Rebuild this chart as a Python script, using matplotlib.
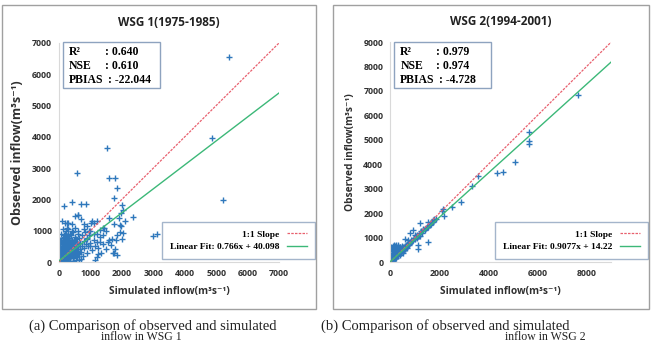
import numpy as np
import matplotlib
matplotlib.use("Agg")
import matplotlib.pyplot as plt
from matplotlib.patches import Rectangle

# ---- data (m3/s) ----
sim_wsg1 = [
    5410, 4880, 5230, 1540, 570, 1600, 1790, 1840, 1760, 160, 410, 710, 860, 2000, 2050, 1980,
    2370, 3000, 3110, 1150, 1220, 1970, 1950, 1800, 1700, 1600, 1420, 1300, 1200, 1100, 1050,
    950, 900, 1400, 1500, 1250, 1750, 1850, 1660, 1000, 1200, 600, 700, 500, 300, 250, 400,
    800, 1100, 1300, 1500, 1600, 1750, 1850, 1900, 2100, 2000, 595, 245, 1020, 1410, 1940,
    2030, 1570, 1780, 1730,
    10, 15, 20, 25, 30, 35, 40, 45, 50, 55, 60, 65, 70, 75, 80, 85, 90, 95, 100, 105, 110,
    115, 120, 125, 130, 135, 140, 145, 150, 155, 160, 165, 170, 175, 180, 185, 190, 195, 200,
    205, 210, 215, 220, 225, 230, 235, 240, 245, 250, 255, 260, 265, 270, 275, 280, 285, 290,
    295, 300, 310, 320, 330, 340, 350, 360, 370, 380, 390, 400, 410, 420, 430, 440, 450, 460,
    470, 480, 490, 500, 510, 520, 530, 540, 550, 560, 570, 580, 590, 600, 620, 640, 660, 680,
    700, 720, 740, 760, 780, 800, 820, 850, 880, 900, 930, 960, 1000, 1050, 1100, 1150, 1200,
    1250, 1300, 1350, 1400, 700, 650, 550, 450, 350, 250, 150, 600, 500, 400, 300, 800, 900,
    1000, 120, 60, 30, 200, 100,
    30, 50, 70, 90, 110, 130, 150, 170, 190, 210, 230, 250, 270, 290, 310, 330, 350, 370, 390,
    60, 80, 100, 120, 140, 160, 180, 200, 220, 240, 260, 280, 300, 320, 340, 360,
    20, 40, 60, 80, 100, 120, 140, 160, 180, 200, 220, 240, 260, 280, 300, 320, 340, 360, 380,
    400, 420, 440, 460, 480, 500, 25, 45, 65, 85, 105, 125, 145, 165, 185, 205, 225, 245, 265,
    285, 305, 325, 345, 365, 385, 405, 425, 445, 465, 485, 505, 530, 560, 590, 620, 650, 35,
    75, 115, 155, 195, 235, 275, 315, 355, 395,
]
obs_wsg1 = [
    6560, 3950, 1980, 3630, 2830, 2670, 2690, 2370, 2030, 1790, 1920, 1850, 1850, 1820, 1660,
    1580, 1450, 830, 895, 60, 150, 1160, 950, 700, 720, 700, 1100, 1030, 1300, 1250, 1300,
    1000, 780, 580, 400, 250, 300, 230, 550, 500, 650, 1500, 1380, 1480, 1250, 1100, 1000,
    1200, 900, 800, 1000, 1400, 1200, 850, 1400, 1300, 750, 1500, 1245, 1255, 1085, 1180,
    925, 650, 415, 278,
    20, 80, 150, 40, 250, 120, 60, 330, 180, 90, 420, 270, 30, 150, 520, 350, 200, 60, 610,
    440, 110, 280, 700, 380, 170, 520, 50, 310, 800, 450, 230, 620, 100, 360, 900, 540, 160,
    420, 700, 290, 70, 580, 1000, 380, 210, 650, 460, 130, 820, 320, 530, 240, 720, 90, 410,
    600, 180, 900, 350, 500, 260, 780, 430, 150, 620, 330, 850, 510, 240, 700, 400, 120, 580,
    950, 300, 680, 450, 200, 800, 380, 560, 260, 720, 470, 150, 640, 350, 900, 500, 280, 760,
    420, 600, 330, 850, 520, 200, 680, 450, 950, 580, 300, 720, 500, 850, 620, 380, 700, 520,
    900, 450, 650, 300, 850, 100, 50, 60, 40, 30, 20, 10, 1000, 1100, 1200, 1050, 1050, 1150,
    1000, 1050, 900, 700, 1250, 1300,
    50, 100, 130, 90, 160, 80, 140, 200, 100, 150, 120, 190, 140, 260, 200, 160, 240, 210, 280,
    200, 260, 320, 360, 240, 330, 280, 380, 300, 350, 400, 320, 450, 380, 300, 460,
    300, 220, 380, 150, 470, 260, 90, 540, 330, 410, 180, 560, 270, 480, 120, 390, 530, 210,
    650, 320, 480, 150, 600, 380, 240, 110, 400, 180, 560, 240, 350, 470, 120, 300, 520, 260,
    420, 80, 550, 310, 240, 620, 170, 430, 560, 220, 350, 700, 280, 460, 320, 180, 420, 560,
    260, 600, 680, 760, 850, 730, 620, 780, 700, 880, 640,
]

sim_wsg2 = [
    7650, 5650, 5650, 5650, 5080, 4330, 4600, 3590, 3340, 2880, 2500, 2200, 2120, 1850, 1800,
    1750, 1210, 1520, 1550, 2160, 1140, 1140, 1520, 910, 800, 600, 55,
    50, 80, 100, 120, 150, 170, 200, 220, 250, 280, 300, 320, 350, 380, 400, 420, 450, 480,
    500, 520, 550, 600, 620, 650, 700, 750, 800, 850, 900, 950, 1000, 1050, 1100, 1150, 1200,
    1250, 1300, 1350, 1400, 1450, 1500, 1600, 1650, 1700,
    60, 100, 150, 200, 250, 300, 120, 180, 30, 40, 70, 90, 130, 160, 190, 230, 260, 340, 420,
    520, 580, 680, 720, 1000, 1080, 1180,
    20, 40, 60, 80, 100, 140, 180, 220, 260, 300, 340, 380, 420, 460, 500, 540, 580, 640, 700,
    760, 820, 880, 940, 1020, 1120, 1220, 1320, 1420, 1520, 1620, 1720, 1800,
    30, 70, 110, 160, 210, 270, 330, 390,
]
obs_wsg2 = [
    6820, 5300, 4970, 4820, 4090, 3630, 3670, 3520, 3120, 2450, 2270, 1900, 2100, 1770, 1720,
    1700, 1610, 1450, 1650, 2160, 520, 684, 832, 1310, 1175, 930, 560,
    80, 150, 60, 200, 300, 120, 250, 400, 180, 330, 550, 260, 400, 620, 300, 480, 380, 650,
    450, 560, 500, 580, 700, 600, 680, 720, 760, 900, 850, 1000, 950, 1050, 1100, 1150, 1080,
    1250, 1200, 1350, 1300, 1380, 1420, 1500, 1550, 1650,
    500, 620, 700, 650, 700, 680, 450, 580, 100, 250, 180, 350, 280, 420, 150, 330, 240, 450,
    420, 380, 520, 560, 900, 1120, 980, 1060,
    40, 120, 300, 200, 380, 250, 420, 300, 480, 350, 560, 420, 520, 470, 600, 520, 650, 640,
    740, 700, 800, 850, 900, 980, 1080, 1180, 1300, 1360, 1480, 1560, 1640, 1760,
    600, 550, 640, 520, 600, 560, 660, 600,
]

panels = [
    dict(sim=sim_wsg1, obs=obs_wsg1, title="WSG 1(1975-1985)", lim=7000,
         xticks=[0, 1000, 2000, 3000, 4000, 5000, 6000, 7000],
         slope=0.766, icpt=40.098, fit_label="Linear Fit: 0.766x + 40.098",
         stats=[("R²", ": 0.640"), ("NSE", ": 0.610"), ("PBIAS", " : -22.044")]),
    dict(sim=sim_wsg2, obs=obs_wsg2, title="WSG 2(1994-2001)", lim=9000,
         xticks=[0, 2000, 4000, 6000, 8000],
         slope=0.9077, icpt=14.22, fit_label="Linear Fit: 0.9077x + 14.22",
         stats=[("R²", ": 0.979"), ("NSE", ": 0.974"), ("PBIAS", " : -4.728")]),
]
captions = ["(a) Comparison of observed and simulated", "(b) Comparison of observed and simulated"]
captions2 = ["inflow in WSG 1", "inflow in WSG 2"]

W, H = 654, 343
fig = plt.figure(figsize=(W / 100, H / 100), dpi=100)


def fx(px):
    return px / W


def fy(py):
    return 1 - py / H


sans = ["Open Sans", "DejaVu Sans"]
serif = ["Liberation Serif", "DejaVu Serif"]

# axes placement in pixels: (left, right, bottom(y=0), top(y=lim))
boxes = [(59, 279, 262, 43), (390.3, 611.2, 262, 42)]
frames = [(1.5, 316, 5, 309), (333, 649, 5, 309)]
cap_x = [153, 445]
cap2_x = [141, 545]

for i, p in enumerate(panels):
    l, r, b, t = boxes[i]
    ax = fig.add_axes([fx(l), fy(b), fx(r) - fx(l), fy(t) - fy(b)])
    lim = p["lim"]
    ax.set_xlim(0, lim)
    ax.set_ylim(0, lim)

    ax.scatter(p["sim"], p["obs"], marker="+", s=22, linewidths=1.0, color="#2F78BC", zorder=2)
    ends = np.array([0, lim])
    ax.plot(ends, ends, color="#E8606E", ls=(0, (2, 1)), lw=0.9, label="1:1 Slope", zorder=3)
    ax.plot(ends, p["slope"] * ends + p["icpt"], color="#3CB878", lw=1.0,
            label=p["fit_label"], zorder=3)

    ax.set_xticks(p["xticks"])
    ax.set_yticks(np.arange(0, lim + 1, 1000))
    ax.tick_params(length=0, pad=5, labelsize=6.3)
    for lab in ax.get_xticklabels() + ax.get_yticklabels():
        lab.set_fontfamily(sans)
        lab.set_fontweight("bold")
        lab.set_color("#303030")
    for s in ["top", "right"]:
        ax.spines[s].set_visible(False)
    for s in ["left", "bottom"]:
        ax.spines[s].set_color("#d9d9d9")
        ax.spines[s].set_linewidth(0.8)

    ax.set_title(p["title"], fontfamily=sans, fontweight="bold", fontsize=8.5, pad=12,
                 color="#222222")
    ax.set_xlabel("Simulated inflow(m³s⁻¹)", fontfamily=sans, fontweight="bold",
                  fontsize=7.3, labelpad=6, color="#303030")
    ax.set_ylabel("Observed inflow(m³s⁻¹)", fontfamily=sans, fontweight="bold",
                  fontsize=9 if i == 0 else 7.3, labelpad=6 if i == 0 else 5, color="#303030")

    # statistics box
    sx0 = l + 4
    ax.add_artist(Rectangle((fx(sx0), fy(88)), fx(97), fy(42) - fy(88), transform=fig.transFigure,
                            fill=False, edgecolor="#8EA3BF", lw=1.0, clip_on=False))
    for k, (name, val) in enumerate(p["stats"]):
        yy = fy(52 + 14 * k)
        fig.text(fx(sx0 + 6), yy, name, fontfamily=serif, fontweight="bold", fontsize=8.5,
                 va="center", ha="left")
        fig.text(fx(sx0 + 42), yy, val, fontfamily=serif, fontweight="bold", fontsize=8.5,
                 va="center", ha="left")

    # legend
    leg = ax.legend(loc="lower right", bbox_to_anchor=(fx(315 if i == 0 else 648), fy(259)),
                    bbox_transform=fig.transFigure, markerfirst=False, frameon=True,
                    fancybox=False, borderaxespad=0, handlelength=2.2, handletextpad=0.8,
                    labelspacing=0.45, borderpad=0.8,
                    prop=dict(family=serif, weight="bold", size=6.8))
    leg.get_frame().set_edgecolor("#8EA3BF")
    leg.get_frame().set_linewidth(1.0)

    # panel frame and caption
    x0, x1, y0, y1 = frames[i]
    fig.add_artist(Rectangle((fx(x0), fy(y1)), fx(x1) - fx(x0), fy(y0) - fy(y1),
                             transform=fig.transFigure, fill=False, edgecolor="#a0a0a0", lw=1.0))
    fig.text(fx(cap_x[i]), fy(326), captions[i], fontfamily=serif, fontsize=10.5,
             ha="center", va="center", color="#222222")
    fig.text(fx(cap2_x[i]), fy(340.5), captions2[i], fontfamily=serif, fontsize=8.5,
             ha="center", va="baseline", color="#222222")

fig.savefig("out.png", dpi=100)
